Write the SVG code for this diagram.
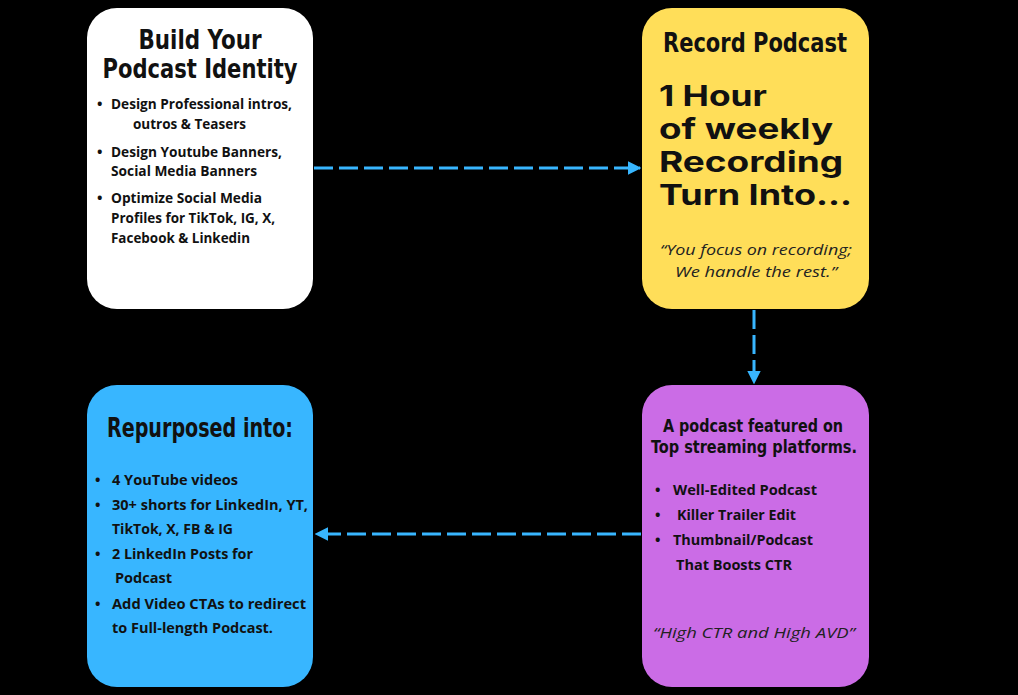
<svg xmlns="http://www.w3.org/2000/svg" width="1018" height="695" viewBox="0 0 1018 695">
<style>
.bg{fill:#000}
.box{stroke:none}
.h{font-family:"DejaVu Sans Condensed","DejaVu Sans",sans-serif;font-stretch:condensed;font-weight:700;fill:#111;text-anchor:middle}
.b{font-family:"Open Sans","Liberation Sans",sans-serif;font-weight:700;font-size:14.5px;fill:#111}
.big{font-family:"Inter","Open Sans",sans-serif;font-weight:700;font-size:28px;fill:#111}
.q{font-family:"Open Sans","Liberation Sans",sans-serif;font-style:italic;font-size:15px;fill:#222;text-anchor:middle}
.conn{fill:none;stroke:#38b6ff;stroke-width:3;stroke-dasharray:19 6}
</style>
<defs>
<marker id="ah" viewBox="0 0 10 10" refX="9" refY="5" markerWidth="4.5" markerHeight="4.5" markerUnits="strokeWidth" orient="auto">
<path d="M0,0 L10,5 L0,10 z" fill="#38b6ff"/>
</marker>
</defs>
<rect class="bg" x="0" y="0" width="1018" height="695"/>

<g id="connectors">
<line class="conn" x1="314" y1="168" x2="640" y2="168" marker-end="url(#ah)"/>
<line class="conn" x1="754" y1="310" x2="754" y2="383" marker-end="url(#ah)"/>
<line class="conn" x1="641" y1="534" x2="316" y2="534" marker-end="url(#ah)"/>
</g>

<g id="build-identity">
<rect class="box" x="87" y="8" width="226" height="301" rx="30" fill="#ffffff"/>
<text class="h" x="200" y="49" font-size="27" textLength="123" lengthAdjust="spacingAndGlyphs">Build Your</text>
<text class="h" x="200" y="78" font-size="27" textLength="195" lengthAdjust="spacingAndGlyphs">Podcast Identity</text>
<text class="b" x="97" y="109">•</text>
<text class="b" x="111" y="109" textLength="181" lengthAdjust="spacingAndGlyphs">Design Professional intros,</text>
<text class="b" x="133" y="129" textLength="113" lengthAdjust="spacingAndGlyphs">outros &amp; Teasers</text>
<text class="b" x="97" y="157">•</text>
<text class="b" x="111" y="157" textLength="171" lengthAdjust="spacingAndGlyphs">Design Youtube Banners,</text>
<text class="b" x="111" y="176" textLength="146" lengthAdjust="spacingAndGlyphs">Social Media Banners</text>
<text class="b" x="97" y="203">•</text>
<text class="b" x="111" y="203" textLength="151" lengthAdjust="spacingAndGlyphs">Optimize Social Media</text>
<text class="b" x="111" y="223" textLength="164" lengthAdjust="spacingAndGlyphs">Profiles for TikTok, IG, X,</text>
<text class="b" x="111" y="243" textLength="139" lengthAdjust="spacingAndGlyphs">Facebook &amp; Linkedin</text>
</g>

<g id="record-podcast">
<rect class="box" x="642" y="8" width="227" height="301" rx="30" fill="#ffde59"/>
<text class="h" x="755" y="52" font-size="27" textLength="184" lengthAdjust="spacingAndGlyphs">Record Podcast</text>
<text class="big" x="659" y="106" textLength="108" lengthAdjust="spacingAndGlyphs">1 Hour</text>
<text class="big" x="659" y="139" textLength="174" lengthAdjust="spacingAndGlyphs">of weekly</text>
<text class="big" x="659" y="172" textLength="184" lengthAdjust="spacingAndGlyphs">Recording</text>
<text class="big" x="659" y="205" textLength="193" lengthAdjust="spacingAndGlyphs">Turn Into...</text>
<text class="q" x="756" y="255" textLength="192" lengthAdjust="spacingAndGlyphs">“You focus on recording;</text>
<text class="q" x="756" y="277" textLength="162" lengthAdjust="spacingAndGlyphs">We handle the rest.”</text>
</g>

<g id="repurposed">
<rect class="box" x="87" y="385" width="226" height="302" rx="30" fill="#38b6ff"/>
<text class="h" x="200" y="437" font-size="27" textLength="186" lengthAdjust="spacingAndGlyphs">Repurposed into:</text>
<text class="b" x="95" y="485">•</text>
<text class="b" x="112" y="485" textLength="126" lengthAdjust="spacingAndGlyphs">4 YouTube videos</text>
<text class="b" x="95" y="510">•</text>
<text class="b" x="112" y="510" textLength="196" lengthAdjust="spacingAndGlyphs">30+ shorts for LinkedIn, YT,</text>
<text class="b" x="112" y="534" textLength="121" lengthAdjust="spacingAndGlyphs">TikTok, X, FB &amp; IG</text>
<text class="b" x="95" y="559">•</text>
<text class="b" x="112" y="559" textLength="141" lengthAdjust="spacingAndGlyphs">2 LinkedIn Posts for</text>
<text class="b" x="115" y="583" textLength="57" lengthAdjust="spacingAndGlyphs">Podcast</text>
<text class="b" x="95" y="609">•</text>
<text class="b" x="112" y="609" textLength="194" lengthAdjust="spacingAndGlyphs">Add Video CTAs to redirect</text>
<text class="b" x="112" y="633" textLength="161" lengthAdjust="spacingAndGlyphs">to Full-length Podcast.</text>
</g>

<g id="featured">
<rect class="box" x="642" y="385" width="227" height="302" rx="30" fill="#cb6ce6"/>
<text class="h" x="753" y="432" font-size="18" textLength="180" lengthAdjust="spacingAndGlyphs">A podcast featured on</text>
<text class="h" x="754" y="453" font-size="18" textLength="206" lengthAdjust="spacingAndGlyphs">Top streaming platforms.</text>
<text class="b" x="655" y="495">•</text>
<text class="b" x="673" y="495" textLength="144" lengthAdjust="spacingAndGlyphs">Well-Edited Podcast</text>
<text class="b" x="655" y="520">•</text>
<text class="b" x="677" y="520" textLength="119" lengthAdjust="spacingAndGlyphs">Killer Trailer Edit</text>
<text class="b" x="655" y="545">•</text>
<text class="b" x="673" y="545" textLength="140" lengthAdjust="spacingAndGlyphs">Thumbnail/Podcast</text>
<text class="b" x="676" y="570" textLength="116" lengthAdjust="spacingAndGlyphs">That Boosts CTR</text>
<text class="q" x="754" y="638" font-size="16" textLength="202" lengthAdjust="spacingAndGlyphs">“High CTR and High AVD”</text>
</g>
</svg>
